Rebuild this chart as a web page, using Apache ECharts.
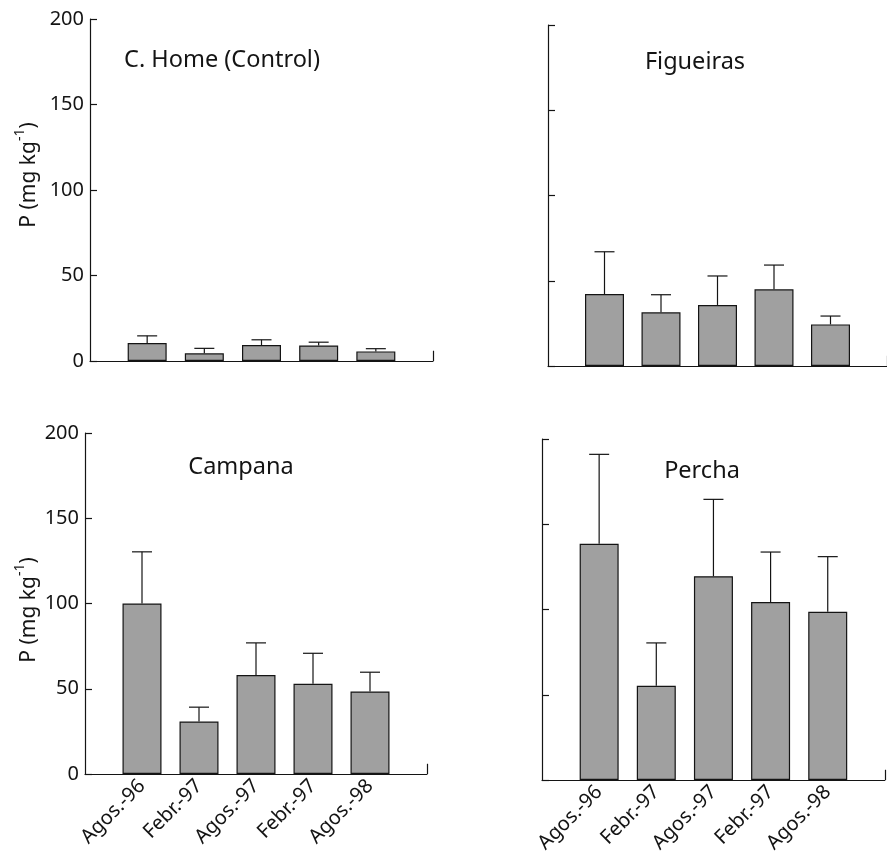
<!DOCTYPE html>
<html>
<head>
<meta charset="utf-8">
<title>P (mg kg-1)</title>
<script src="https://cdn.jsdelivr.net/npm/echarts@6/dist/echarts.min.js"></script>
<style>
  html, body { margin: 0; padding: 0; background: #fff; }
  #chart { width: 887px; height: 859px; }
</style>
</head>
<body>
<div id="chart"></div>
<script>
// sampling dates (same for every site)
const categories = ['Agos.-96', 'Febr.-97', 'Agos.-97', 'Febr.-97', 'Agos.-98']

// means and error bar lengths
const homeMean = [10.5, 4.5, 9.3, 9.1, 5.6]
const homeErr = [4.2, 2.9, 3.1, 1.9, 1.6]
const figueirasMean = [42.2, 31.5, 35.8, 45, 24.4]
const figueirasErr = [24.8, 10.3, 17, 14.2, 4.9]
const campanaMean = [100, 30.8, 58, 52.9, 48.4]
const campanaErr = [30.3, 8.4, 18.9, 17.9, 11.3]
const perchaMean = [138.6, 55.3, 119.5, 104.4, 98.7]
const perchaErr = [52.4, 25.1, 45.1, 29.3, 32.3]

const yTicks = [0, 50, 100, 150, 200]

const FONT = '"Noto Sans", "Open Sans", sans-serif'
const INK = '#141414'

const panels = [
  { title: 'C. Home (Control)', mean: homeMean, err: homeErr,
    grid: { left: 90, top: 19, width: 343, height: 342 }, showY: true, showX: false,
    titlePos: [222, 60], nameGap: 45, namePad: [0, 0, 0, 30] },
  { title: 'Figueiras', mean: figueirasMean, err: figueirasErr,
    grid: { left: 548, top: 25, width: 344, height: 341 }, showY: false, showX: false,
    titlePos: [695, 62] },
  { title: 'Campana', mean: campanaMean, err: campanaErr,
    grid: { left: 85, top: 433, width: 342, height: 341 }, showY: true, showX: true,
    titlePos: [241, 467], nameGap: 40, namePad: [0, 13, 0, 0] },
  { title: 'Percha', mean: perchaMean, err: perchaErr,
    grid: { left: 542, top: 439, width: 344, height: 341 }, showY: false, showX: true,
    titlePos: [702, 471] }
]

// empty slot on each side so bars sit on integer positions 1..5
const xData = [''].concat(categories, [''])

function renderErr (params, api) {
  const x = api.value(0)
  const m = api.value(1)
  const s = api.value(2)
  const base = api.coord([x, m])
  const top = api.coord([x, m + s])
  const style = { stroke: INK, lineWidth: 1.2 }
  return {
    type: 'group',
    children: [
      { type: 'line', shape: { x1: base[0], y1: base[1], x2: top[0], y2: top[1] }, style },
      { type: 'line', shape: { x1: top[0] - 10, y1: top[1], x2: top[0] + 10, y2: top[1] }, style }
    ]
  }
}

const grid = []
const xAxis = []
const yAxis = []
const series = []
const graphic = []

panels.forEach((p, i) => {
  grid.push(p.grid)
  xAxis.push({
    type: 'category',
    gridIndex: i,
    data: xData,
    boundaryGap: false,
    axisLine: { lineStyle: { color: INK, width: 1.2 } },
    axisTick: { show: false },
    splitLine: { show: false },
    axisLabel: {
      show: p.showX,
      interval: 0,
      rotate: 45,
      margin: 9,
      fontSize: 20,
      fontFamily: FONT,
      color: INK
    }
  })
  yAxis.push({
    type: 'value',
    gridIndex: i,
    min: yTicks[0],
    max: yTicks[yTicks.length - 1],
    interval: 50,
    name: p.showY ? '{a|P (mg kg}{s|-1}{a|)}' : '',
    nameLocation: 'middle',
    nameRotate: 90,
    nameGap: p.nameGap || 40,
    nameTextStyle: {
      padding: p.namePad || 0,
      rich: {
        a: { fontSize: 21, fontFamily: FONT, color: INK, lineHeight: 32 },
        s: { fontSize: 14, fontFamily: FONT, color: INK, lineHeight: 14, verticalAlign: 'top' }
      }
    },
    axisLine: { show: true, lineStyle: { color: INK, width: 1.2 } },
    axisTick: { show: true, inside: true, length: 7, lineStyle: { color: INK, width: 1.2 } },
    splitLine: { show: false },
    axisLabel: {
      show: p.showY,
      margin: 6,
      fontSize: 20,
      fontFamily: FONT,
      color: INK
    }
  })
  series.push({
    type: 'bar',
    xAxisIndex: i,
    yAxisIndex: i,
    barWidth: 39,
    data: p.mean.map((v, k) => [k + 1, v]),
    itemStyle: { color: '#a0a0a0', borderColor: INK, borderWidth: 1.2 },
    silent: true,
    markLine: {
      silent: true,
      symbol: 'none',
      label: { show: false },
      lineStyle: { color: INK, width: 1.2, type: 'solid' },
      data: [[{ coord: [6, 0] }, { coord: [6, 6] }]]
    }
  })
  series.push({
    type: 'custom',
    xAxisIndex: i,
    yAxisIndex: i,
    renderItem: renderErr,
    encode: { x: 0, y: 1 },
    data: p.mean.map((v, k) => [k + 1, v, p.err[k]]),
    z: 3,
    silent: true
  })
  graphic.push({
    type: 'text',
    x: p.titlePos[0],
    y: p.titlePos[1],
    style: {
      text: p.title,
      font: '23.5px ' + FONT,
      fill: INK,
      align: 'center',
      verticalAlign: 'middle',
      textAlign: 'center',
      textVerticalAlign: 'middle'
    }
  })
})

const chart = echarts.init(document.getElementById('chart'), null, { renderer: 'canvas' })
chart.setOption({
  animation: false,
  backgroundColor: '#fff',
  grid,
  xAxis,
  yAxis,
  series,
  graphic
})
</script>
</body>
</html>
